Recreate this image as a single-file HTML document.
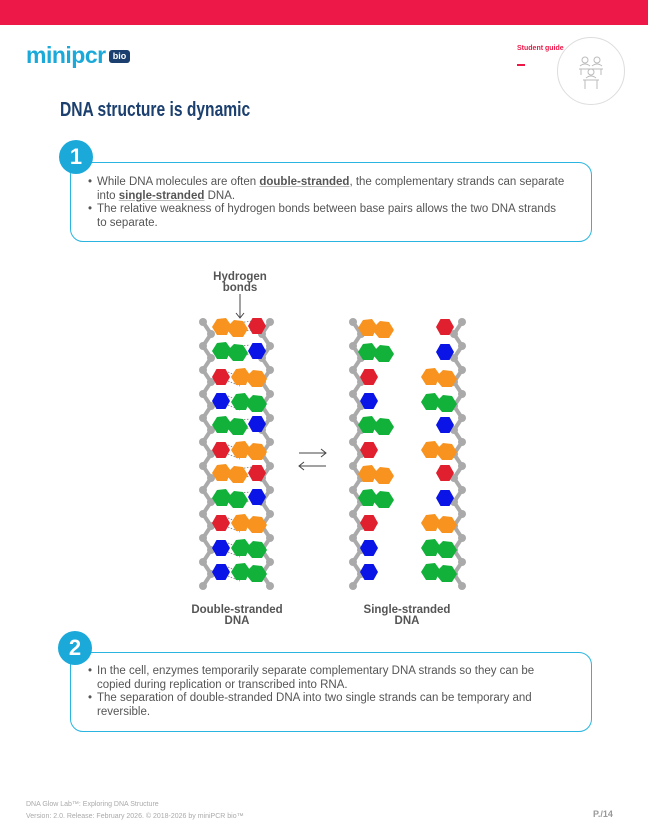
<!DOCTYPE html>
<html><head><meta charset="utf-8"><style>
body{margin:0;width:648px;height:832px;position:relative;background:#fff;font-family:"Liberation Sans",sans-serif;overflow:hidden}
.abs{position:absolute}
.box{position:absolute;left:70px;width:520px;border:1.5px solid #29b5e0;border-radius:13px}
.num{position:absolute;width:34px;height:34px;border-radius:50%;background:#1aa9d9;color:#fff;font-weight:bold;font-size:22px;text-align:center;line-height:34px}
ul{margin:0;padding:0;list-style:none}
li{position:relative;padding-left:25px;font-size:11.5px;color:#555;line-height:13.7px;white-space:nowrap}
li:before{content:"•";position:absolute;left:16px}
b.u{color:#555;text-decoration:underline;text-decoration-color:#bbb}
</style></head><body>
<div class="abs" style="left:0;top:0;width:648px;height:25px;background:#ee1848"></div>
<div class="abs" style="left:26px;top:42px;font-size:23px;font-weight:bold;color:#1aa9d9;letter-spacing:-0.5px">minipcr</div>
<div class="abs" style="left:109px;top:50px;width:21px;height:13px;background:#1b3f6e;border-radius:3px;color:#fff;font-size:9px;font-weight:bold;text-align:center;line-height:13px">bio</div>
<div class="abs" style="left:517px;top:45px;font-size:7px;font-weight:bold;color:#ee1848">Student guide</div>
<div class="abs" style="left:517px;top:64px;width:8px;height:2px;background:#ee1848"></div>
<div class="abs" style="left:557px;top:37px;width:66px;height:66px;border:1px solid #ddd;border-radius:50%"></div>
<svg class="abs" style="left:575px;top:55px" width="32" height="36" viewBox="0 0 32 36" fill="none" stroke="#bbb" stroke-width="1"><circle cx="10" cy="5" r="3"/><circle cx="22" cy="5" r="3"/><path d="M4 14h24M6 14v6M26 14v6M5 11q5-4 10 0M17 11q5-4 10 0"/><circle cx="16" cy="17" r="3"/><path d="M8 25h16M10 25v9M22 25v9M11 23q5-4 10 0"/></svg>
<div class="abs" style="left:60px;top:99px;font-size:20px;font-weight:bold;color:#1b3f6e;transform:scaleX(0.78);transform-origin:0 0;white-space:nowrap">DNA structure is dynamic</div>

<div class="box" style="top:162px;height:78px"></div>
<div class="num" style="left:59px;top:140px">1</div>
<ul class="abs" style="left:72px;top:176px;width:510px">
<li>While DNA molecules are often <b class="u">double-stranded</b>, the complementary strands can separate<br>into <b class="u">single-stranded</b> DNA.</li>
<li>The relative weakness of hydrogen bonds between base pairs allows the two DNA strands<br>to separate.</li>
</ul>

<svg class="abs" style="left:0;top:0" width="648" height="832">
<defs>
<marker id="bd" markerUnits="userSpaceOnUse" markerWidth="10" markerHeight="10" refX="5" refY="5"><circle cx="5" cy="5" r="4" fill="#aaa"/></marker>
<g id="hex"><polygon points="9,0 4.5,8 -4.5,8 -9,0 -4.5,-8 4.5,-8"/></g>
<g id="lng"><polygon points="1,-3 -4,-10 -13,-9 -18,-1 -13,7 -3,7"/><polygon points="-2,-2 4,-8 13,-7 18,1 13,9 3,9 -2,3"/></g>
</defs>
<g stroke="#aaa" stroke-width="4" fill="none" marker-start="url(#bd)" marker-mid="url(#bd)" marker-end="url(#bd)">
<polyline points="203,322 211,334 203,346 211,358 203,370 211,382 203,394 211,406 203,418 211,430 203,442 211,454 203,466 211,478 203,490 211,502 203,514 211,526 203,538 211,550 203,562 211,574 203,586"/>
<polyline points="270,322 262,334 270,346 262,358 270,370 262,382 270,394 262,406 270,418 262,430 270,442 262,454 270,466 262,478 270,490 262,502 270,514 262,526 270,538 262,550 270,562 262,574 270,586"/>
<polyline points="353,322 361,334 353,346 361,358 353,370 361,382 353,394 361,406 353,418 361,430 353,442 361,454 353,466 361,478 353,490 361,502 353,514 361,526 353,538 361,550 353,562 361,574 353,586"/>
<polyline points="462,322 454,334 462,346 454,358 462,370 454,382 462,394 454,406 462,418 454,430 462,442 454,454 462,466 454,478 462,490 454,502 462,514 454,526 462,538 454,550 462,562 454,574 462,586"/>
</g>
<g stroke="#777" stroke-width="0.8" stroke-dasharray="1.5,1.5">
<path d="M238 323L252 321M238 332L252 330M232 347L250 345M232 356L250 354M228 372L240 377M228 381L240 386M228 396L240 401M228 405L240 410M232 421L250 419M232 430L250 428M228 445L240 450M228 454L240 459M238 469L252 467M238 478L252 476M232 494L250 492M232 503L250 501M228 518L240 523M228 527L240 532M228 543L240 548M228 552L240 557M228 567L240 572M228 576L240 581"/>
</g>
<use href="#lng" x="230" y="328" fill="#f7931e"/><use href="#hex" x="257" y="326" fill="#e0202e"/>
<use href="#lng" x="230" y="352" fill="#12b13a"/><use href="#hex" x="257" y="351" fill="#0a14e6"/>
<use href="#hex" x="221" y="377" fill="#e0202e"/><use href="#lng" x="249" y="378" fill="#f7931e"/>
<use href="#hex" x="221" y="401" fill="#0a14e6"/><use href="#lng" x="249" y="403" fill="#12b13a"/>
<use href="#lng" x="230" y="426" fill="#12b13a"/><use href="#hex" x="257" y="424" fill="#0a14e6"/>
<use href="#hex" x="221" y="450" fill="#e0202e"/><use href="#lng" x="249" y="451" fill="#f7931e"/>
<use href="#lng" x="230" y="474" fill="#f7931e"/><use href="#hex" x="257" y="473" fill="#e0202e"/>
<use href="#lng" x="230" y="499" fill="#12b13a"/><use href="#hex" x="257" y="497" fill="#0a14e6"/>
<use href="#hex" x="221" y="523" fill="#e0202e"/><use href="#lng" x="249" y="524" fill="#f7931e"/>
<use href="#hex" x="221" y="548" fill="#0a14e6"/><use href="#lng" x="249" y="549" fill="#12b13a"/>
<use href="#hex" x="221" y="572" fill="#0a14e6"/><use href="#lng" x="249" y="573" fill="#12b13a"/>
<use href="#lng" x="376" y="329" fill="#f7931e"/>
<use href="#lng" x="376" y="353" fill="#12b13a"/>
<use href="#hex" x="369" y="377" fill="#e0202e"/>
<use href="#hex" x="369" y="401" fill="#0a14e6"/>
<use href="#lng" x="376" y="426" fill="#12b13a"/>
<use href="#hex" x="369" y="450" fill="#e0202e"/>
<use href="#lng" x="376" y="475" fill="#f7931e"/>
<use href="#lng" x="376" y="499" fill="#12b13a"/>
<use href="#hex" x="369" y="523" fill="#e0202e"/>
<use href="#hex" x="369" y="548" fill="#0a14e6"/>
<use href="#hex" x="369" y="572" fill="#0a14e6"/>
<use href="#hex" x="445" y="327" fill="#e0202e"/>
<use href="#hex" x="445" y="352" fill="#0a14e6"/>
<use href="#lng" x="439" y="378" fill="#f7931e"/>
<use href="#lng" x="439" y="403" fill="#12b13a"/>
<use href="#hex" x="445" y="425" fill="#0a14e6"/>
<use href="#lng" x="439" y="451" fill="#f7931e"/>
<use href="#hex" x="445" y="473" fill="#e0202e"/>
<use href="#hex" x="445" y="498" fill="#0a14e6"/>
<use href="#lng" x="439" y="524" fill="#f7931e"/>
<use href="#lng" x="439" y="549" fill="#12b13a"/>
<use href="#lng" x="439" y="573" fill="#12b13a"/>
<g stroke="#444" stroke-width="1" fill="none">
<path d="M240 294V318M236 313L240 318L244 313"/>
<path d="M299 453H326M321 449L326 453L321 457"/>
<path d="M299 466H326M304 462L299 466L304 470"/>
</g>
<g font-family="Liberation Sans, sans-serif" font-weight="bold" font-size="11.5" fill="#555" text-anchor="middle">
<text x="240" y="280">Hydrogen</text><text x="240" y="291">bonds</text>
<text x="237" y="613">Double-stranded</text><text x="237" y="624">DNA</text>
<text x="407" y="613">Single-stranded</text><text x="407" y="624">DNA</text>
</g>
</svg>

<div class="box" style="top:652px;height:78px"></div>
<div class="num" style="left:58px;top:631px">2</div>
<ul class="abs" style="left:72px;top:665px;width:510px">
<li>In the cell, enzymes temporarily separate complementary DNA strands so they can be<br>copied during replication or transcribed into RNA.</li>
<li>The separation of double-stranded DNA into two single strands can be temporary and<br>reversible.</li>
</ul>

<div class="abs" style="left:26px;top:799px;font-size:7px;color:#aaa;line-height:12px">DNA Glow Lab™: Exploring DNA Structure<br>Version: 2.0. Release: February 2026. © 2018-2026 by miniPCR bio™</div>
<div class="abs" style="left:593px;top:809px;font-size:9px;font-weight:bold;color:#999">P./14</div>
</body></html>
